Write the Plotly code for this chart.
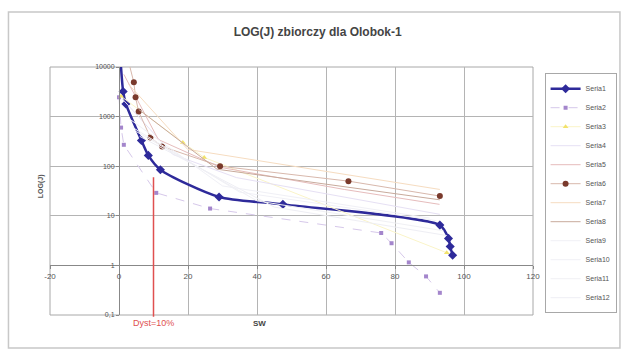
import plotly.graph_objects as go
import math

# ---- data ----
s1_x = [0.5, 1.2, 2.0, 6.5, 8.5, 12.0, 29.0, 47.5, 93.0, 95.5, 96.0, 96.7]
s1_y = [12000, 3200, 1800, 330, 165, 85, 24, 17, 6.5, 3.5, 2.4, 1.6]

s2_x = [0.0, 0.6, 1.4, 10.8, 26.4, 76.0, 79.0, 84.0, 89.0, 93.0]
s2_y = [2450, 600, 270, 29, 14, 4.5, 2.8, 1.15, 0.6, 0.28]

s3_x = [0.6, 18.5, 24.7, 95.0]
s3_y = [2570, 300, 150, 1.8]

s4_x = [0.9, 15.6, 34.0, 93.0]
s4_y = [2300, 173, 59, 10.7]

s5_x = [1.4, 11.4, 29.3, 65.3, 92.9]
s5_y = [7100, 345, 95, 34, 17]

s6_x = [2.8, 4.3, 4.8, 5.7, 9.1, 12.5, 29.3, 66.5, 93.0]
s6_y = [12600, 4900, 2450, 1260, 380, 250, 100, 50, 25]

s7_x = [2.8, 19.9, 93.0]
s7_y = [4470, 218, 34]

s8_x = [5.7, 28.4, 93.0]
s8_y = [1400, 87, 21]

s9_x = [3.0, 30.0, 90.0]
s9_y = [900, 40, 9]
s10_x = [4.0, 35.0, 92.0]
s10_y = [600, 30, 8]
s11_x = [5.0, 40.0, 94.0]
s11_y = [500, 20, 5]
s12_x = [6.0, 45.0, 95.0]
s12_y = [400, 15, 4]

x_ticks = [-20, 0, 20, 40, 60, 80, 100, 120]
x_labels = ["-20", "0", "20", "40", "60", "80", "100", "120"]
y_ticks = [0.1, 1, 10, 100, 1000, 10000]
y_labels = ["0,1", "1", "10", "100", "1000", "10000"]

marker_x = 10
marker_y = 60

title_text = "LOG(J) zbiorczy dla Olobok-1"
x_title = "SW"
y_title = "LOG(J)"
note_text = "Dyst=10%"

FONT = "Liberation Sans, Arial, sans-serif"

fig = go.Figure()

def add(name, xs, ys, color, width=1, dash="solid", msym=None, mcol=None, msize=5,
        shape="linear", smoothing=1.0):
    kw = dict(x=xs, y=ys, name=name,
              line=dict(color=color, width=width, dash=dash, shape=shape,
                        smoothing=smoothing))
    if msym:
        kw["mode"] = "lines+markers"
        kw["marker"] = dict(symbol=msym, color=mcol or color, size=msize,
                            line=dict(width=0))
    else:
        kw["mode"] = "lines"
    fig.add_trace(go.Scatter(**kw))

add("Seria1", s1_x, s1_y, "#2e2a9a", width=2.5, msym="diamond", msize=7,
    shape="spline", smoothing=0.7)
add("Seria2", s2_x, s2_y, "#d6c8ea", width=1, dash="dash", msym="square", mcol="#a486cc", msize=4)
add("Seria3", s3_x, s3_y, "#faf4c8", width=1, msym="triangle-up", mcol="#f2e26a", msize=5)
add("Seria4", s4_x, s4_y, "#e6e0f4", width=1)
add("Seria5", s5_x, s5_y, "#e6bcbc", width=1, msym="line-ns", mcol="#d09090", msize=5)
add("Seria6", s6_x, s6_y, "#d8b8ac", width=1, msym="circle", mcol="#7a3a2c", msize=6)
add("Seria7", s7_x, s7_y, "#f6dcc0", width=1)
add("Seria8", s8_x, s8_y, "#c8aa9c", width=1)
add("Seria9", s9_x, s9_y, "#f0f0f6", width=1)
add("Seria10", s10_x, s10_y, "#f0f0f6", width=1)
add("Seria11", s11_x, s11_y, "#f0f0f4", width=1)
add("Seria12", s12_x, s12_y, "#eeeef4", width=1)

# red marker line with note
fig.add_annotation(x=marker_x, y=math.log10(marker_y), xref="x", yref="y",
                   text=note_text, showarrow=True, ax=0, ay=146,
                   arrowcolor="#e05050", arrowwidth=1.5, arrowhead=0,
                   font=dict(family=FONT, size=9, color="#e05050"))

# outer chart frame and plot frame
fig.add_shape(type="rect", xref="paper", yref="paper", x0=-0.086, x1=1.18, y0=-0.133, y1=1.222,
              line=dict(color="#c8c8c8", width=1.5), layer="below")
fig.add_shape(type="rect", xref="paper", yref="paper", x0=0, x1=1, y0=0, y1=1,
              line=dict(color="#a8a8a8", width=1), layer="below")

fig.update_layout(
    width=629, height=356,
    margin=dict(l=50, r=90, t=67, b=41),
    paper_bgcolor="white", plot_bgcolor="white",
    font=dict(family=FONT, size=8, color="#555555"),
    title=dict(text="<b>" + title_text + "</b>", x=0.505, xanchor="center",
               y=0.91, yanchor="middle", font=dict(family=FONT, size=12, color="#444444")),
    xaxis=dict(range=[-20, 120], tickvals=x_ticks, ticktext=x_labels,
               anchor="free", position=0.2, showline=True, linecolor="#888888",
               showgrid=True, gridcolor="#b4b4b4", gridwidth=1, zeroline=False,
               ticks="outside", ticklen=3, tickcolor="#888888",
               tickfont=dict(size=8, color="#555555")),
    yaxis=dict(type="log", range=[-1, 4], tickvals=y_ticks, ticktext=y_labels,
               anchor="free", position=20 / 140, showline=True, linecolor="#888888",
               showgrid=True, gridcolor="#b4b4b4", gridwidth=1, zeroline=False,
               ticks="outside", ticklen=3, tickcolor="#888888",
               tickfont=dict(size=7, color="#555555")),
    legend=dict(x=1.024, y=0.975, xanchor="left", yanchor="top",
                bordercolor="#a8a8a8", borderwidth=1, bgcolor="white",
                font=dict(size=7, color="#555555"), tracegroupgap=0,
                itemwidth=30),
    showlegend=True,
)

fig.add_annotation(text="<b>" + x_title + "</b>", xref="paper", yref="paper",
                   x=(262 - 50) / 489, y=(315 - 330) / 248, showarrow=False,
                   font=dict(family=FONT, size=8, color="#444444"))
fig.add_annotation(text="<b>" + y_title + "</b>", xref="paper", yref="paper",
                   x=(35 - 50) / 489, y=(315 - 186) / 248, showarrow=False, textangle=-90,
                   font=dict(family=FONT, size=7, color="#555555"))

fig.write_html("out.html")
